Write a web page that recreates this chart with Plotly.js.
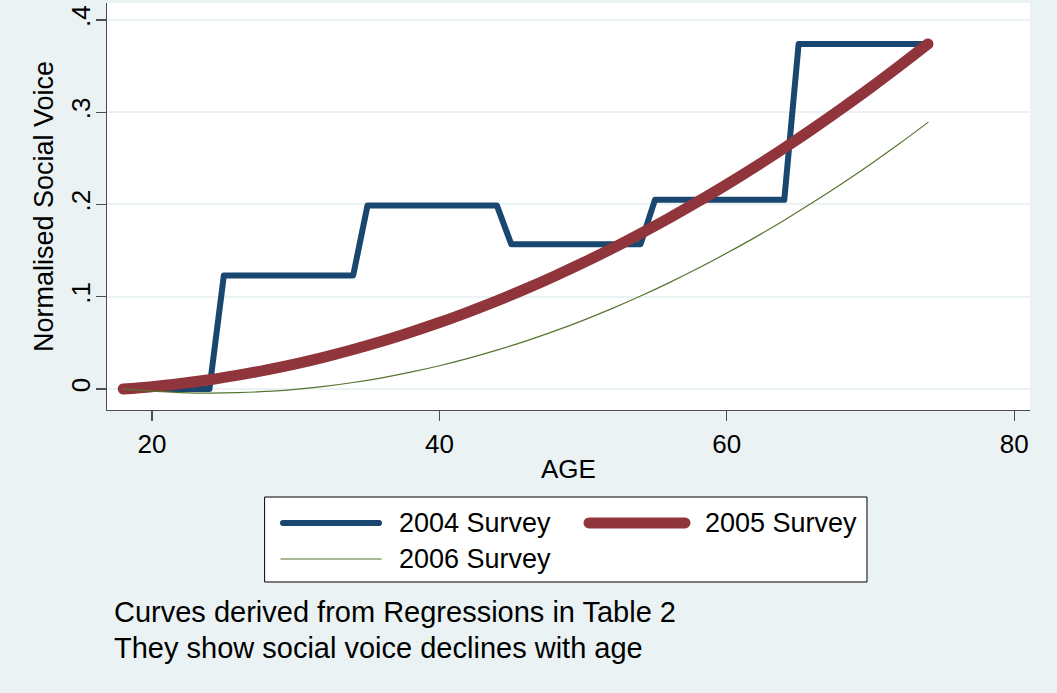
<!DOCTYPE html>
<html>
<head>
<meta charset="utf-8">
<script src="https://cdn.plot.ly/plotly-3.0.1.min.js"></script>
<style>
  html, body { margin: 0; padding: 0; background: #EAF2F3; }
  #chart { width: 1057px; height: 693px; }
  path.js-line, .shapelayer path { stroke-linecap: round !important; stroke-linejoin: round !important; }
</style>
</head>
<body>
<div id="chart"></div>
<script>
// Data
const age2004 = [18, 24, 25, 34, 35, 44, 45, 54, 55, 64, 65, 74];
const voice2004 = [0, 0, 0.123, 0.123, 0.199, 0.199, 0.157, 0.157, 0.205, 0.205, 0.374, 0.374];

const ageCurve = [18, 20, 22, 24, 26, 28, 30, 32, 34, 36, 38, 40, 42, 44, 46, 48, 50, 52, 54, 56, 58, 60, 62, 64, 66, 68, 70, 72, 74];
const voice2005 = [0, 0.0025, 0.0059, 0.0100, 0.0150, 0.0207, 0.0272, 0.0346, 0.0428, 0.0517, 0.0615, 0.0720, 0.0834, 0.0955, 0.1085, 0.1223, 0.1368, 0.1521, 0.1684, 0.1853, 0.2031, 0.2216, 0.2410, 0.2612, 0.2822, 0.3040, 0.3265, 0.3499, 0.374];
const voice2006 = [0, -0.0024, -0.0039, -0.0045, -0.0040, -0.0027, -0.0004, 0.0028, 0.0070, 0.0121, 0.0182, 0.0252, 0.0332, 0.0421, 0.0519, 0.0627, 0.0744, 0.0871, 0.1007, 0.1153, 0.1308, 0.1473, 0.1646, 0.1830, 0.2023, 0.2225, 0.2437, 0.2658, 0.289];

const seriesNames = ['2004 Survey', '2005 Survey', '2006 Survey'];
const seriesColors = ['#1a476f', '#90353b', '#55752f'];
const seriesWidths = [6, 11, 1.2];
const xTicks = [20, 40, 60, 80];
const yTicks = [0, 0.1, 0.2, 0.3, 0.4];
const yTickText = ['0', '.1', '.2', '.3', '.4'];
const noteLines = ['Curves derived from Regressions in Table 2', 'They show social voice declines with age'];

const FONT = '"Liberation Sans", Arial, Helvetica, sans-serif';

const traces = [
  { x: age2004, y: voice2004, name: seriesNames[0], type: 'scatter', mode: 'lines',
    line: { color: seriesColors[0], width: seriesWidths[0] } },
  { x: ageCurve, y: voice2005, name: seriesNames[1], type: 'scatter', mode: 'lines',
    line: { color: seriesColors[1], width: seriesWidths[1], shape: 'spline' } },
  { x: ageCurve, y: voice2006, name: seriesNames[2], type: 'scatter', mode: 'lines',
    line: { color: seriesColors[2], width: seriesWidths[2], shape: 'spline' } }
];

// Legend drawn as a boxed key below the plot (paper coordinates)
const legendBox = { x0: 0.1712, x1: 0.8234, y0: -0.4226, y1: -0.2138 };
const legendRows = [-0.2776, -0.2776, -0.3661];
const legendLineX = [[0.1907, 0.2947], [0.5222, 0.6262], [0.1885, 0.2970]];
const legendTextX = [0.3142, 0.6457, 0.3142];

const shapes = [
  { type: 'rect', xref: 'paper', yref: 'paper',
    x0: legendBox.x0, x1: legendBox.x1, y0: legendBox.y0, y1: legendBox.y1,
    fillcolor: '#FFFFFF', line: { color: '#000000', width: 1 }, layer: 'above' }
];
const annotations = [];
for (let i = 0; i < seriesNames.length; i++) {
  shapes.push({ type: 'line', xref: 'paper', yref: 'paper',
    x0: legendLineX[i][0], x1: legendLineX[i][1], y0: legendRows[i], y1: legendRows[i],
    line: { color: seriesColors[i], width: seriesWidths[i] }, layer: 'above' });
  annotations.push({ text: seriesNames[i], xref: 'paper', yref: 'paper',
    x: legendTextX[i], y: legendRows[i], xanchor: 'left', yanchor: 'middle',
    showarrow: false, font: { size: 27, family: FONT, color: '#000000' } });
}
annotations.push(
  { text: noteLines[0], xref: 'paper', yref: 'paper', x: 0.0055, y: -0.4963,
    xanchor: 'left', yanchor: 'middle', showarrow: false, font: { size: 29, family: FONT } },
  { text: noteLines[1], xref: 'paper', yref: 'paper', x: 0.0055, y: -0.5848,
    xanchor: 'left', yanchor: 'middle', showarrow: false, font: { size: 29, family: FONT } }
);

const layout = {
  width: 1057, height: 693,
  paper_bgcolor: '#EAF2F3',
  plot_bgcolor: '#FFFFFF',
  margin: { l: 107, r: 27, t: 3, b: 283, pad: 0 },
  font: { family: FONT, color: '#000000', size: 26 },
  showlegend: false,
  xaxis: {
    range: [16.87, 81.1],
    tickvals: xTicks,
    ticktext: xTicks.map(String),
    ticks: 'outside', ticklen: 10, tickwidth: 1.3, tickcolor: '#4d4d4d',
    showline: true, linecolor: '#4d4d4d', linewidth: 1.3,
    showgrid: false, zeroline: false,
    tickfont: { size: 26, family: FONT },
    title: { text: 'AGE', font: { size: 26, family: FONT }, standoff: 2 }
  },
  yaxis: {
    range: [-0.0228, 0.4184],
    tickvals: yTicks,
    ticktext: yTickText,
    tickangle: -90,
    ticklabelstandoff: -5,
    ticks: 'outside', ticklen: 10, tickwidth: 1.3, tickcolor: '#4d4d4d',
    showline: true, linecolor: '#4d4d4d', linewidth: 1.3,
    showgrid: true, gridcolor: '#EAF2F3', gridwidth: 2,
    zeroline: false,
    tickfont: { size: 26, family: FONT },
    title: { text: 'Normalised Social Voice', font: { size: 27, family: FONT }, standoff: 4 }
  },
  shapes: shapes,
  annotations: annotations
};

Plotly.newPlot('chart', traces, layout, { displayModeBar: false, staticPlot: true });
</script>
</body>
</html>
